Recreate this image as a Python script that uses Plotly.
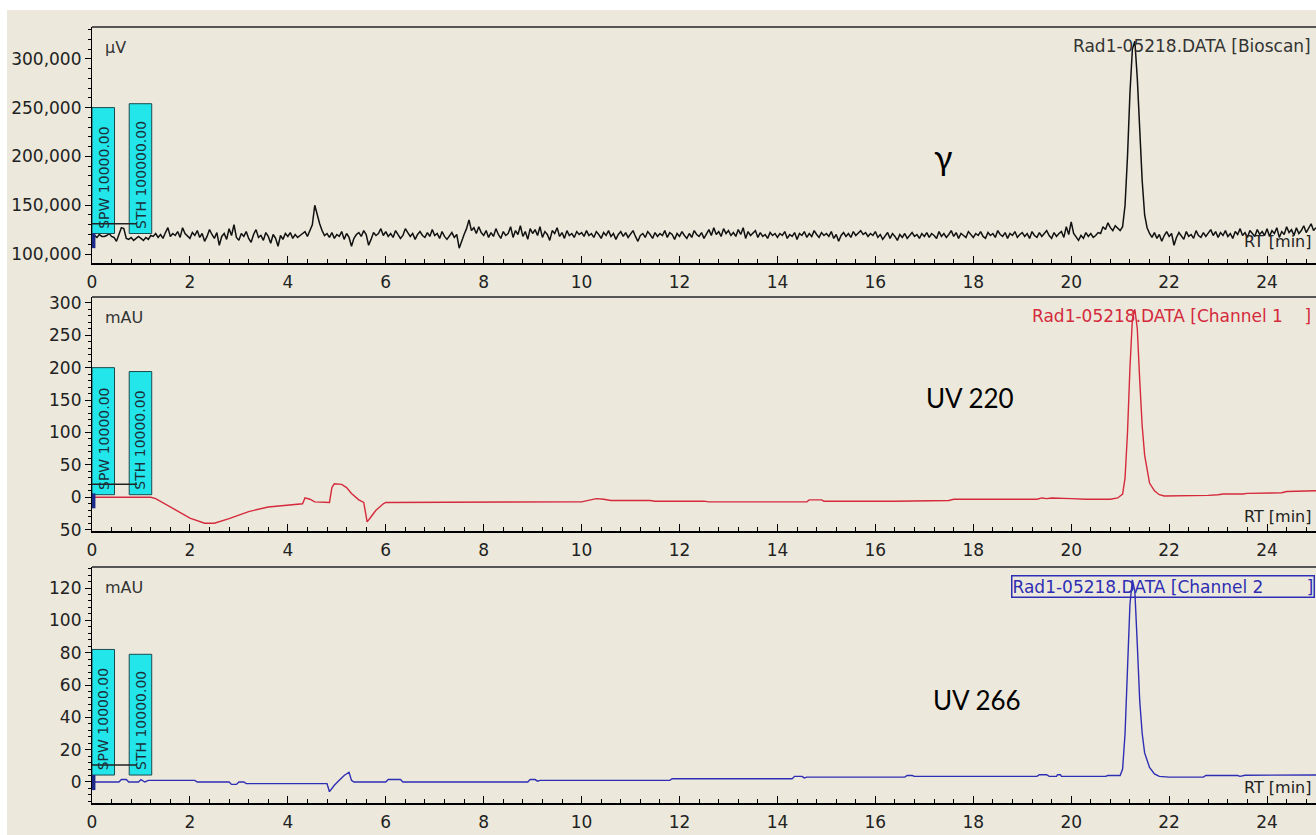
import plotly.graph_objects as go

# ---------------- data ----------------
# Bioscan (gamma) detector, thousand µV, sampled every 0.05 min from 0 to 25 min
bioscan_step_min = 0.05
bioscan_kuv = [
    118,119,117,120,118,118,119,121,118,117,113,121,127,126,116,115,117,114,116,118,
    116,114,117,115,119,118,121,117,120,116,122,127,118,121,119,123,117,127,121,118,
    116,122,119,124,117,121,113,118,125,120,116,122,109,118,121,115,126,119,130,117,
    114,121,118,123,116,112,120,125,117,119,114,122,118,111,120,116,108,119,115,121,
    118,122,116,120,117,119,121,123,118,125,130,150,140,131,124,119,121,117,122,116,
    120,118,123,115,121,117,108,116,120,122,118,124,120,109,115,122,119,121,126,119,
    123,118,121,117,124,120,116,119,126,122,118,121,115,120,123,119,117,122,118,125,
    119,121,116,123,118,115,119,122,117,120,106,114,120,126,135,124,127,121,128,122,
    119,124,117,122,118,126,120,116,123,119,121,128,117,124,120,129,118,123,115,126,
    121,125,119,128,117,123,120,114,124,121,127,118,122,116,124,119,121,117,123,120,
    122,118,124,119,121,117,123,120,116,122,119,124,118,121,115,120,123,118,122,117,
    120,124,118,113,119,121,117,123,120,116,122,118,121,119,124,117,122,120,115,121,
    118,123,119,116,121,117,124,120,118,122,116,121,125,119,127,120,123,118,126,121,
    124,119,122,118,125,120,127,116,123,119,121,124,117,122,118,120,116,122,119,121,
    117,121,119,123,116,120,118,122,115,121,119,123,117,121,118,124,120,117,122,119,
    121,118,123,116,120,113,119,122,118,121,117,123,119,121,124,120,122,118,121,119,
    123,117,120,115,119,122,116,121,118,114,120,117,121,116,119,122,118,120,116,121,
    118,122,117,121,119,116,123,118,121,117,120,124,118,122,116,121,119,117,123,120,
    117,121,119,123,118,116,122,119,121,117,124,120,118,122,116,121,119,123,117,120,
    122,118,121,116,123,119,117,122,118,121,124,119,116,122,118,121,123,117,128,120,
    133,121,118,114,119,116,122,118,121,117,119,122,121,128,125,132,127,124,129,126,
    124,128,150,200,265,310,318,280,225,175,140,127,121,117,122,116,120,113,119,123,
    118,121,109,117,122,119,115,123,118,120,116,124,119,117,122,118,121,125,119,123,
    117,122,119,124,118,121,116,123,120,126,119,122,117,124,121,118,125,120,123,119,
    126,118,124,121,127,117,123,120,128,122,125,119,127,121,124,129,122,126,131,124,
    127,
]
bioscan_rt = [round(i * bioscan_step_min, 2) for i in range(len(bioscan_kuv))]
bioscan_uv = [v * 1000 for v in bioscan_kuv]

# UV 220 nm channel (mAU) breakpoints
uv220_rt = [0, 1.2, 1.3, 1.6, 2.0, 2.3, 2.5, 2.8, 3.2, 3.6, 4.0, 4.3, 4.35, 4.45, 4.55, 4.8,
            4.85, 4.9, 4.95, 5.1, 5.2, 5.3, 5.45, 5.55, 5.62, 5.7, 5.8, 5.95, 6.0,
            10.0, 10.1, 10.2, 10.3, 10.45, 10.6, 11.4, 11.5, 12.5, 12.6, 14.6, 14.65,
            14.9, 14.95, 16.4, 17.5, 17.6, 19.3, 19.4, 19.5, 19.6, 19.9, 20.0, 20.3,
            20.8, 20.95, 21.05, 21.1, 21.15, 21.2, 21.25, 21.3, 21.35, 21.4, 21.45,
            21.5, 21.55, 21.6, 21.7, 21.8, 21.9, 22.7, 22.8, 23.0, 23.1, 23.5, 23.6,
            24.3, 24.4, 25.0]
uv220_mau = [0, 0, -2, -15, -32, -40, -40, -33, -22, -15, -12, -10, -1, -3, -7, -7,
             -8, 15, 21, 20, 15, 6, -4, -8, -38, -30, -20, -10, -8,
             -7, -5, -3, -2, -3, -5, -5, -6, -6, -7, -7, -4,
             -4, -6, -6, -5, -3, -3, -1, -2, -1, -1, -2, -3,
             -3, -1, 5, 30, 100, 200, 275, 290, 260, 180, 110,
             65, 40, 22, 10, 4, 2, 2, 3, 4, 5, 5, 6,
             7, 9, 10]

# UV 266 nm channel (mAU) breakpoints
uv266_rt = [0, 0.55, 0.6, 0.7, 0.75, 0.95, 1.0, 1.08, 1.15, 2.1, 2.15, 2.8, 2.85, 2.95,
            3.0, 3.1, 3.15, 3.25, 4.8, 4.85, 4.95, 5.05, 5.15, 5.25, 5.3, 5.35, 6.0,
            6.05, 6.3, 6.35, 8.9, 8.95, 9.05, 9.1, 9.15, 11.8, 11.85, 14.3, 14.35,
            14.5, 14.55, 14.6, 16.6, 16.65, 16.75, 16.8, 19.3, 19.35, 19.5, 19.55,
            19.7, 19.72, 19.78, 19.8, 20.7, 20.75, 21.0, 21.05, 21.1, 21.15, 21.2,
            21.25, 21.3, 21.35, 21.4, 21.45, 21.5, 21.6, 21.7, 21.8, 22.0, 22.7,
            22.75, 23.4, 23.45, 23.55, 25.0]
uv266_mau = [0, 0, 1.5, 1.5, 0, 0, 1.5, 0, 1, 1, 0, 0, -1.5, -1.5,
             0, 0, -1, -1, -1, -6, -2, 1, 4, 6, 1, 0, 0,
             1.5, 1.5, 0, 0, 1.5, 1.5, 0.5, 1, 1, 2, 2, 3.5,
             3.5, 2.5, 3, 3, 4, 4, 3.5, 3.5, 4.5, 4.5, 3.5,
             3.5, 4.5, 4.5, 3.5, 3.5, 4, 4, 8, 30, 70, 110,
             125, 118, 85, 50, 30, 18, 9, 5, 3.5, 3, 3,
             4, 4, 3.5, 4.2, 4.3]

NB = "&nbsp;"
panel_titles = ["Rad1-05218.DATA [Bioscan]",
                "Rad1-05218.DATA [Channel 1" + NB * 4 + "]",
                "Rad1-05218.DATA [Channel 2" + NB * 8 + "]"]
unit_labels = ["µV", "mAU", "mAU"]
detector_labels = ["γ", "UV 220", "UV 266"]
event_texts = [["SPW 10000.00", "STH 100000.00"],
               ["SPW 10000.00", "STH 10000.00"],
               ["SPW 10000.00", "STH 10000.00"]]
event_box_rt = [[0.0, 0.46], [0.76, 1.22]]
event_box_top = [[250000, 254000], [200, 194], [82, 79]]
event_box_bottom = [121000, 4, 4.3]
event_line_level = [131000, 20, 10.5]
event_line_end_rt = 0.92
start_marker = [[106000, 121000], [-17, 6], [-5, 4.3]]
label_pos = [(17.39, 200000), (17.94, 153), (18.08, 51)]

# ---------------- styling ----------------
BEIGE = "#ECE9DC"
FONT = "DejaVu Sans"
colors = ["#111111", "#D42A3C", "#2E2EB4"]
title_colors = ["#333333", "#D42A3C", "#2E2EB4"]

W, H = 1316, 835
ML, MR, MT, MB = 92, 0, 27, 32
plot_h = H - MT - MB
panels_px = [(27, 263), (297, 531), (567, 803)]
domains = [[(H - MB - b) / plot_h, (H - MB - t) / plot_h] for t, b in panels_px]

fig = go.Figure()
series = [(bioscan_rt, bioscan_uv), (uv220_rt, uv220_mau), (uv266_rt, uv266_mau)]
widths = [1.5, 1.4, 1.4]
for i, (xs, ys) in enumerate(series):
    sfx = "" if i == 0 else str(i + 1)
    fig.add_trace(go.Scatter(x=xs, y=ys, mode="lines",
                             line=dict(color=colors[i], width=widths[i]),
                             xaxis="x" + sfx, yaxis="y" + sfx, showlegend=False,
                             hoverinfo="skip"))

xaxis_common = dict(range=[0, 25], tick0=0, dtick=2, ticks="inside", ticklen=7,
                    tickcolor="black", tickwidth=1, showline=True, linecolor="black",
                    linewidth=1.5, showgrid=False, zeroline=False, ticklabelstandoff=3,
                    tickfont=dict(family=FONT, size=17, color="#222222"),
                    minor=dict(dtick=0.4, tick0=0, ticks="inside", ticklen=4,
                               tickcolor="black", showgrid=False))
yaxis_common = dict(ticks="outside", ticklen=6, tickcolor="black", showline=True,
                    linecolor="black", linewidth=1.2, showgrid=False, zeroline=False,
                    tickfont=dict(family=FONT, size=17, color="#222222"))

layout = dict(width=W, height=H, margin=dict(l=ML, r=MR, t=MT, b=MB),
              paper_bgcolor="white", plot_bgcolor="white", showlegend=False)

y_ranges = [[90800, 332600], [-52, 309], [-13, 133]]
y_dticks = [50000, 50, 20]
y_minor = [10000, 10, 4]
for i in range(3):
    sfx = "" if i == 0 else str(i + 1)
    xa = dict(xaxis_common, domain=[0, 1], anchor="y" + sfx)
    ya = dict(yaxis_common, domain=domains[i], anchor="x" + sfx, range=y_ranges[i],
              tick0=0, dtick=y_dticks[i],
              minor=dict(dtick=y_minor[i], tick0=0, ticks="outside", ticklen=3,
                         tickcolor="black", showgrid=False))
    if i == 0:
        ya["tickformat"] = ",d"
    if i == 1:
        ya["labelalias"] = {"−50": "50", "-50": "50"}
    layout["xaxis" + sfx] = xa
    layout["yaxis" + sfx] = ya
fig.update_layout(**layout)

shapes = []
annotations = []
# beige window background
shapes.append(dict(type="rect", xref="paper", yref="paper",
                   x0=(7 - ML) / (W - ML - MR), x1=1.01,
                   y0=-(MB + 2) / plot_h, y1=1 + (MT - 10) / plot_h,
                   fillcolor=BEIGE, line=dict(width=0), layer="below"))
for i in range(3):
    sfx = "" if i == 0 else str(i + 1)
    xr, yr = "x" + sfx, "y" + sfx
    # top frame line
    shapes.append(dict(type="line", xref=xr + " domain", yref=yr + " domain",
                       x0=0, x1=1, y0=1, y1=1, line=dict(color="#555555", width=2)))
    # event boxes
    for j in range(2):
        shapes.append(dict(type="rect", xref=xr, yref=yr,
                           x0=event_box_rt[j][0], x1=event_box_rt[j][1],
                           y0=event_box_bottom[i], y1=event_box_top[i][j],
                           fillcolor="#22E6EA", line=dict(color="#1A4A50", width=1),
                           layer="above"))
        annotations.append(dict(xref=xr, yref=yr,
                                x=(event_box_rt[j][0] + event_box_rt[j][1]) / 2,
                                y=event_box_bottom[i], yshift=3,
                                xanchor="center", yanchor="bottom", textangle=-90,
                                text=event_texts[i][j], showarrow=False,
                                font=dict(family=FONT, size=14, color="#1B2E3A")))
    shapes.append(dict(type="line", xref=xr, yref=yr, x0=0, x1=event_line_end_rt,
                       y0=event_line_level[i], y1=event_line_level[i],
                       line=dict(color="#222222", width=1.5)))
    shapes.append(dict(type="rect", xref=xr, yref=yr, x0=0, x1=0.07,
                       y0=start_marker[i][0], y1=start_marker[i][1],
                       fillcolor="#1C2A8A", line=dict(width=0)))
    # unit label
    annotations.append(dict(xref=xr + " domain", yref=yr + " domain", x=0, xshift=11,
                            y=1, yshift=-20, xanchor="left", yanchor="middle",
                            text=unit_labels[i], showarrow=False,
                            font=dict(family=FONT, size=16, color="#333333")))
    # RT [min]
    rt_y = [0.093, 0.06, 0.064][i]
    annotations.append(dict(xref=xr + " domain", yref=yr + " domain", x=1, xshift=-3,
                            y=rt_y, xanchor="right", yanchor="middle",
                            text="RT [min]", showarrow=False,
                            font=dict(family=FONT, size=16, color="#222222")))
    # data file title
    title = dict(xref=xr + " domain", yref=yr + " domain", x=1, xshift=-3, y=1,
                 yshift=-19, xanchor="right", yanchor="middle", text=panel_titles[i],
                 showarrow=False, font=dict(family=FONT, size=17, color=title_colors[i]))
    if i == 2:
        title.update(bordercolor=colors[2], borderwidth=1.5, borderpad=0, xshift=-1,
                     bgcolor="rgba(255,255,255,0)")
    annotations.append(title)
    # detector label
    annotations.append(dict(xref=xr, yref=yr, x=label_pos[i][0], y=label_pos[i][1],
                            xanchor="center", yanchor="middle", text=detector_labels[i],
                            showarrow=False,
                            font=dict(family="Lato", size=34 if i == 0 else 26,
                                      color="black")))

fig.update_layout(shapes=shapes, annotations=annotations)
fig.write_html("out.html")
